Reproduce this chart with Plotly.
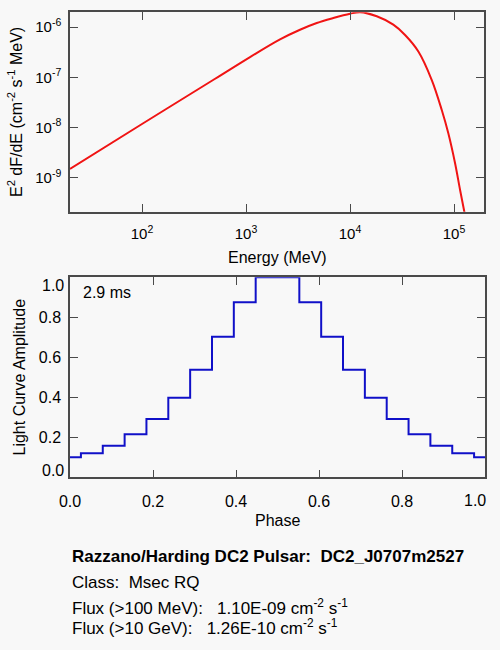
import plotly.graph_objects as go

# ---- Data ----
energy_mev = [20.3, 100, 500, 1093, 2123, 3304, 4786, 6902, 10000, 12500,
              18070, 26060, 33810, 45390, 61090, 76210, 88100, 102300,
              114300, 125600, 134900]
e2_dfde = [1.49e-9, 1.175e-8, 9.25e-8, 2.535e-7, 5.71e-7, 8.87e-7, 1.208e-6,
           1.517e-6, 1.849e-6, 1.986e-6, 1.641e-6, 1.117e-6, 6.97e-7, 3.27e-7,
           8.83e-8, 2.23e-8, 7.66e-9, 1.94e-9, 5.69e-10, 2.10e-10, 9.5e-11]

phase = [0.0, 0.0526, 0.1053, 0.1579, 0.2105, 0.2632, 0.3158, 0.3684, 0.4211,
         0.4737, 0.5263, 0.5789, 0.6316, 0.6842, 0.7368, 0.7895, 0.8421,
         0.8947, 0.9474, 1.0]
amplitude = [0.10, 0.12, 0.158, 0.215, 0.292, 0.398, 0.538, 0.703, 0.875, 1.0,
             1.0, 0.875, 0.703, 0.538, 0.398, 0.292, 0.215, 0.158, 0.12, 0.10]

energy_ticks = [100, 1000, 10000, 100000]
energy_ticktext = ["10<sup>2</sup>", "10<sup>3</sup>", "10<sup>4</sup>", "10<sup>5</sup>"]
flux_ticks = [1e-9, 1e-8, 1e-7, 1e-6]
flux_ticktext = ["10<sup>-9</sup>", "10<sup>-8</sup>", "10<sup>-7</sup>", "10<sup>-6</sup>"]
phase_ticks = [0.0, 0.2, 0.4, 0.6, 0.8, 1.0]
phase_ticktext = ["0.0", "0.2", "0.4", "0.6", "0.8", ""]
amp_ticks = [0.0, 0.2, 0.4, 0.6, 0.8, 1.0]
amp_ticktext = ["", "0.2", "0.4", "0.6", "0.8", ""]

period_label = "2.9 ms"
info_title = "Razzano/Harding DC2 Pulsar:\u00a0\u00a0DC2_J0707m2527"
info_class = "Class:\u00a0\u00a0Msec RQ"
info_flux100 = "Flux (>100 MeV):\u00a0\u00a0\u00a01.10E-09 cm<sup>-2</sup> s<sup>-1</sup>"
info_flux10g = "Flux (>10 GeV):\u00a0\u00a0\u00a01.26E-10 cm<sup>-2</sup> s<sup>-1</sup>"

# ---- Styling ----
W, H = 500, 650
FONT = "Liberation Sans, Arial, Helvetica, sans-serif"
BG = "#f8f8f8"
AX = "#4a4a4a"


def px(x):
    return x / W


def py(y):
    return 1 - y / H


fig = go.Figure()

fig.add_trace(go.Scatter(x=energy_mev, y=e2_dfde, mode="lines",
                         line=dict(color="#f01414", width=2, shape="spline"),
                         xaxis="x", yaxis="y", showlegend=False))

fig.add_trace(go.Scatter(x=phase, y=amplitude, mode="lines",
                         line=dict(color="#1010c8", width=2, shape="hvh"),
                         xaxis="x2", yaxis="y2", showlegend=False))

x_minor = [m * 10 ** k for k in range(0, 6) for m in (2.8, 4.6, 6.4, 8.2)]
y_minor = [m * 10 ** k for k in range(-11, -5) for m in range(2, 10)]
lin_minor = [i * 0.05 for i in range(21)]

common = dict(showline=True, linecolor=AX, linewidth=1.5, mirror="ticks",
              ticks="inside", tickcolor=AX, tickwidth=1.2, showgrid=False,
              zeroline=False, automargin=False)

X1 = [px(70), px(484)]
Y1 = [py(211.7), py(12.3)]
X2 = [px(70), px(485)]
Y2 = [py(477.3), py(277.3)]
XR1 = [1.3077, 5.288]
YR1 = [-9.677, -5.705]

minor_common = dict(showline=True, linecolor=AX, linewidth=1.5, mirror="ticks",
                    ticks="inside", tickcolor=AX, tickwidth=1.2, ticklen=4,
                    showgrid=False, zeroline=False, automargin=False,
                    showticklabels=False, tickmode="array")

fig.update_layout(
    width=W, height=H,
    margin=dict(l=0, r=0, t=0, b=0),
    paper_bgcolor=BG, plot_bgcolor=BG,
    font=dict(family=FONT, color="#000000", size=16),
    xaxis=dict(type="log", domain=X1, anchor="y", range=XR1,
               tickmode="array", tickvals=energy_ticks, ticktext=energy_ticktext,
               ticklen=8, tickfont=dict(size=15), ticklabelstandoff=8,
               **common),
    yaxis=dict(type="log", domain=Y1, anchor="x", range=YR1,
               tickmode="array", tickvals=flux_ticks, ticktext=flux_ticktext,
               ticklen=8, tickfont=dict(size=15), ticklabelstandoff=4,
               **common),
    xaxis2=dict(domain=X2, anchor="y2", range=[0, 1],
                tickmode="array", tickvals=phase_ticks, ticktext=phase_ticktext,
                ticklen=8, tickfont=dict(size=16), ticklabelstandoff=9,
                **common),
    yaxis2=dict(domain=Y2, anchor="x2", range=[0, 1],
                tickmode="array", tickvals=amp_ticks, ticktext=amp_ticktext,
                ticklen=8, tickfont=dict(size=16), ticklabelstandoff=4,
                **common),
    # overlay axes carrying only the minor ticks
    xaxis3=dict(type="log", domain=X1, anchor="y", overlaying="x", range=XR1,
                tickvals=x_minor, **minor_common),
    yaxis3=dict(type="log", domain=Y1, anchor="x", overlaying="y", range=YR1,
                tickvals=y_minor, **minor_common),
    xaxis4=dict(domain=X2, anchor="y2", overlaying="x2", range=[0, 1],
                tickvals=lin_minor, **minor_common),
    yaxis4=dict(domain=Y2, anchor="x2", overlaying="y2", range=[0, 1],
                tickvals=lin_minor, **minor_common),
)

ann = [
    dict(text="Energy (MeV)", x=px(277), y=py(257), xanchor="center",
         yanchor="middle", font=dict(size=16)),
    dict(text="E<sup>2</sup> dF/dE (cm<sup>-2</sup> s<sup>-1</sup> MeV)",
         x=px(15), y=py(112), xanchor="center", yanchor="middle",
         textangle=-90, font=dict(size=16)),
    dict(text="Phase", x=px(277.5), y=py(520.7), xanchor="center",
         yanchor="middle", font=dict(size=16)),
    dict(text="Light Curve Amplitude", x=px(18.5), y=py(377), xanchor="center",
         yanchor="middle", textangle=-90, font=dict(size=16)),
    dict(text=period_label, x=px(80.7), y=py(292.7), xanchor="left",
         yanchor="middle", font=dict(size=16)),
    # end tick labels of the light-curve axes, kept inside the frame extent
    dict(text="1.0", yref="y2", x=px(66), y=1.0, yshift=-8,
         xanchor="right", yanchor="middle", font=dict(size=16)),
    dict(text="0.0", yref="y2", x=px(66), y=0.0, yshift=7,
         xanchor="right", yanchor="middle", font=dict(size=16)),
    dict(text="1.0", xref="x2", x=1.0, xshift=-10, y=py(500),
         xanchor="center", yanchor="middle", font=dict(size=16)),
    dict(text="<b>" + info_title + "</b>", x=px(70), y=py(556.7), xanchor="left",
         yanchor="middle", font=dict(size=17)),
    dict(text=info_class, x=px(70), y=py(582), xanchor="left",
         yanchor="middle", font=dict(size=17)),
    dict(text=info_flux100, x=px(70), y=py(607), xanchor="left",
         yanchor="middle", font=dict(size=17)),
    dict(text=info_flux10g, x=px(70), y=py(627), xanchor="left",
         yanchor="middle", font=dict(size=17)),
]
for a in ann:
    a.setdefault("xref", "paper")
    a.setdefault("yref", "paper")
    a["showarrow"] = False
fig.update_layout(annotations=ann)

fig.write_html("out.html",
               config={"displayModeBar": False},
               post_script="document.body.style.margin='0px';"
                           "document.body.style.overflow='hidden';")
